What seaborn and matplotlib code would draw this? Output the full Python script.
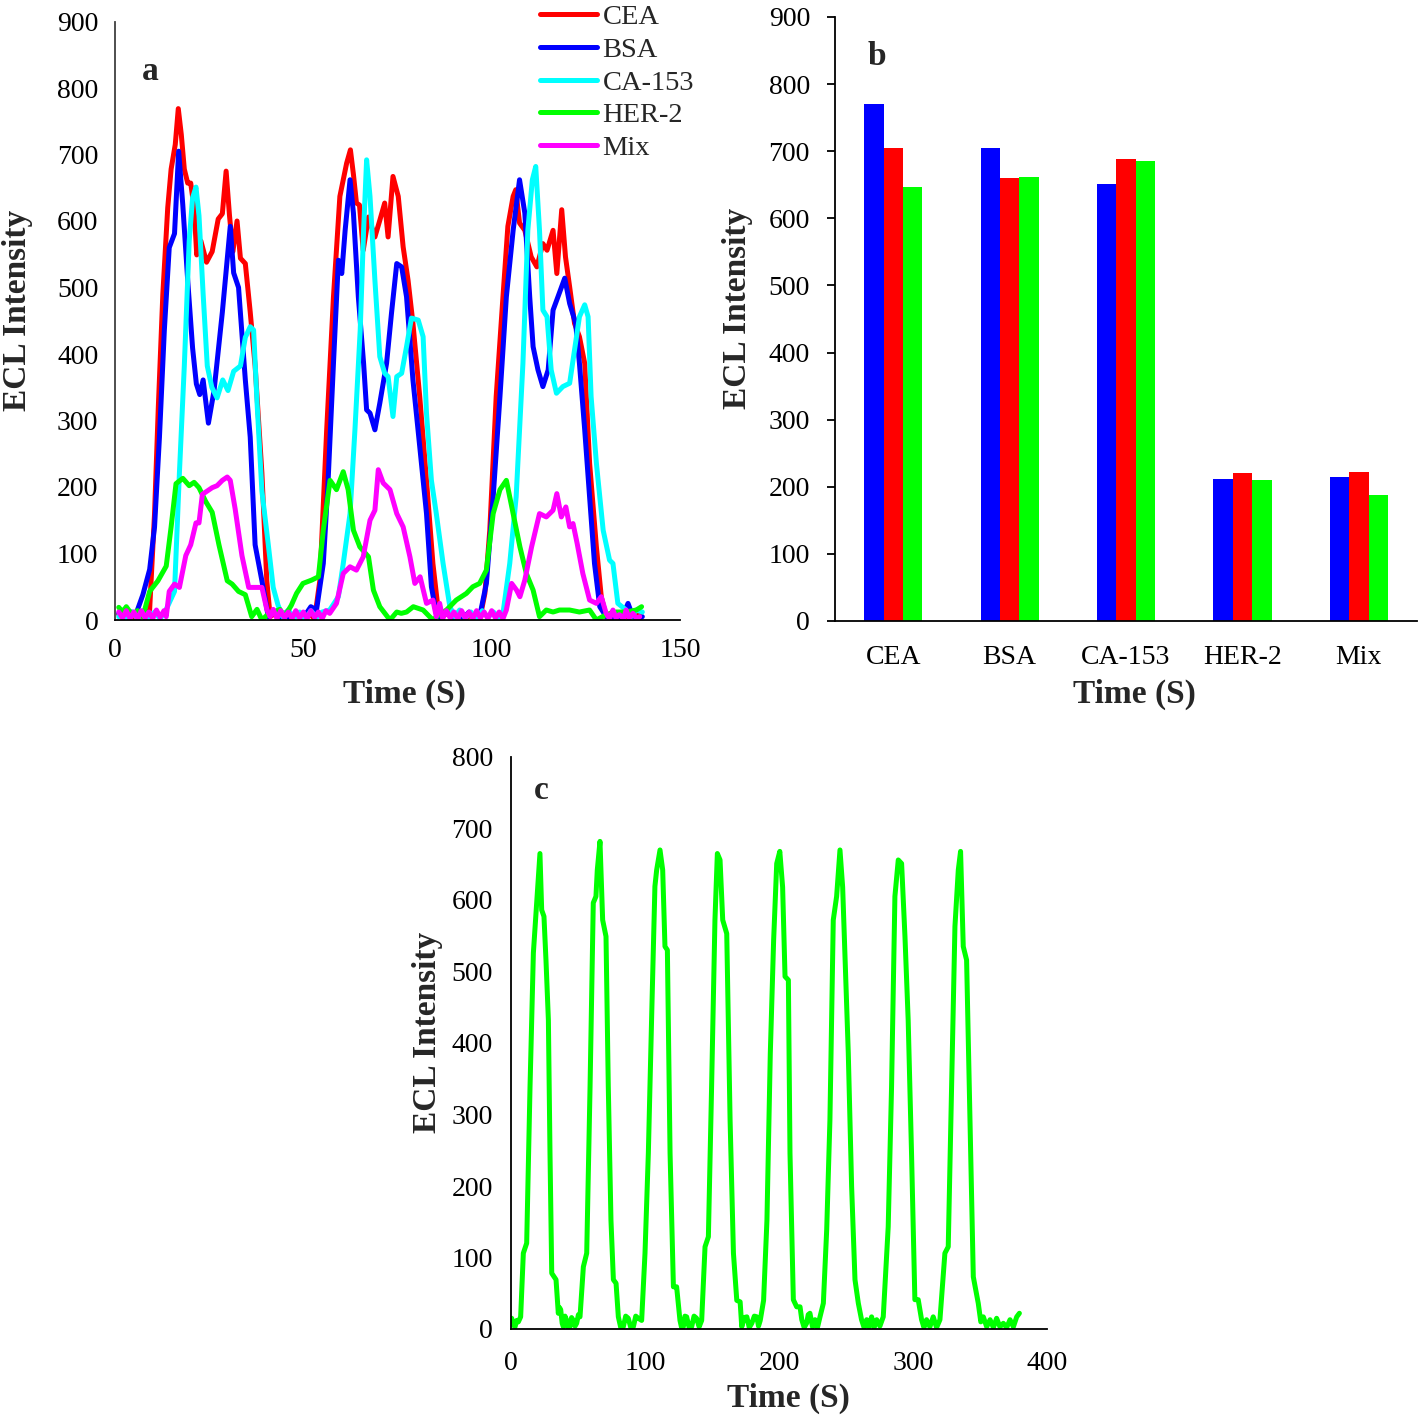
import pandas as pd
import numpy as np
import matplotlib.pyplot as plt
import seaborn as sns

sns.set_style("white")
plt.rcParams['font.family'] = ['Liberation Serif', 'DejaVu Serif']

# ---- panel a : ECL traces, (time, intensity)
cea = [(1, 8), (2.5, 3), (4, 10), (5.5, 2), (7, 6), (8.5, 4), (9.2, 16), (10.5, 160), (11.5, 320),
       (12.7, 490), (14.0, 620), (14.9, 678), (16.0, 715), (16.8, 769), (17.6, 730), (18.4, 678),
       (19.3, 657), (20.1, 657), (21.0, 620), (21.7, 549), (22.8, 570), (24.3, 538), (25.8, 554),
       (27.4, 603), (28.5, 611), (29.5, 675), (30.4, 608), (31.3, 554), (32.4, 600), (33.3, 544),
       (34.6, 536), (35.9, 463), (37.2, 382), (39.0, 221), (40.3, 59), (41.2, 5), (42.5, 10),
       (44, 3), (45.5, 12), (47, 2), (48.5, 8), (50, 4), (51.5, 10), (53.0, 2), (54.4, 60),
       (56.2, 286), (58.0, 486), (59.7, 637), (61.5, 687), (62.5, 707), (63.3, 670), (64.1, 627),
       (64.9, 624), (65.9, 556), (67.3, 606), (69.0, 576), (70.3, 601), (71.6, 627), (72.5, 576),
       (73.8, 667), (75.2, 637), (76.5, 561), (77.8, 511), (79.1, 446), (80.9, 336), (82.7, 210),
       (84.4, 85), (85.8, 15), (87, 5), (88.5, 12), (90, 3), (91.5, 10), (93, 2), (94.5, 8),
       (96, 4), (96.8, 0), (98.2, 40), (99.5, 135), (101.2, 336), (103.0, 486), (104.3, 592),
       (105.7, 637), (106.4, 647), (107.4, 597), (108.8, 586), (110.5, 546), (112.0, 531),
       (113.6, 566), (114.7, 556), (116.3, 586), (117.3, 521), (118.6, 617), (119.6, 546),
       (120.7, 501), (122.0, 446), (123.3, 426), (124.7, 386), (126.0, 236), (127.8, 110),
       (129.1, 35), (130.4, 5), (132, 12), (133.5, 2), (135, 10), (136.5, 3), (138, 12), (139.5, 5)]

bsa = [(1, 10), (2.5, 4), (4, 12), (5.7, 11), (7.4, 38), (9.2, 76), (10.5, 140), (11.8, 275),
       (13.1, 436), (14.4, 560), (15.8, 581), (16.9, 705), (18.0, 624), (19.3, 511), (20.6, 409),
       (21.6, 355), (22.5, 339), (23.4, 361), (24.8, 296), (26.3, 345), (28.5, 463), (30.6, 592),
       (31.5, 522), (32.8, 500), (34.6, 361), (35.9, 275), (37.2, 113), (39.0, 59), (40.7, 5),
       (42, 12), (43.5, 3), (45, 10), (46.5, 2), (48, 12), (49.5, 4), (50.8, 10), (52, 20),
       (53.5, 15), (55.3, 85), (56.5, 200), (58.0, 386), (59.3, 541), (60.2, 521), (61.1, 586),
       (62.4, 662), (63.3, 612), (64.6, 486), (66.0, 386), (66.8, 316), (67.7, 311), (69.0, 286),
       (70.3, 326), (72.1, 386), (73.4, 461), (74.8, 536), (76.1, 531), (77.4, 486), (79.1, 361),
       (80.9, 261), (82.7, 160), (84.0, 50), (85.3, 10), (86.5, 3), (88, 12), (89.5, 2), (91, 10),
       (92.5, 3), (94, 12), (95.5, 4), (96.8, 5), (98.6, 55), (100.4, 185), (102.2, 336),
       (103.9, 486), (105.7, 586), (107.4, 662), (108.8, 612), (110.1, 486), (111.0, 411),
       (112.3, 376), (113.6, 351), (115.0, 376), (116.3, 466), (117.6, 486), (119.4, 514),
       (120.7, 476), (122.3, 446), (123.3, 386), (124.7, 286), (126.0, 185), (127.3, 85),
       (128.7, 20), (130.4, 5), (132, 3), (133.1, 10), (134.5, 2), (136.2, 25), (137.5, 5),
       (139, 2), (140, 5)]

ca153 = [(1, 5), (2, 15), (3, 3), (4.5, 12), (6, 2), (7.5, 14), (9, 3), (10.5, 12), (12, 2),
         (13.6, 16), (15.8, 43), (17.1, 221), (18.4, 382), (19.7, 570), (20.6, 635), (21.5, 651),
         (22.3, 608), (23.4, 490), (24.5, 382), (25.7, 350), (27.1, 334), (28.6, 361), (30.0, 345),
         (31.5, 374), (33.3, 382), (34.6, 425), (35.9, 441), (36.8, 436), (37.7, 328), (39.0, 194),
         (40.7, 113), (42.0, 49), (43.3, 22), (44.5, 5), (46, 15), (47.5, 3), (49, 12), (50.5, 2),
         (52, 14), (53.5, 4), (55, 12), (57.0, 15), (59.3, 35), (60.6, 85), (62.4, 160),
         (63.7, 286), (65.1, 436), (66.0, 586), (66.8, 692), (67.7, 637), (69.0, 511), (70.3, 396),
         (71.6, 371), (72.5, 366), (73.8, 306), (74.8, 366), (76.1, 371), (77.4, 411), (78.7, 454),
         (80.5, 451), (81.8, 426), (82.7, 311), (84.0, 210), (85.3, 160), (87.1, 85), (88.9, 20),
         (90.2, 5), (91.5, 15), (93, 3), (94.5, 12), (96, 2), (97.5, 14), (99, 4), (100.5, 12),
         (101.8, 3), (103.0, 10), (104.8, 85), (106.5, 185), (108.3, 386), (109.6, 586),
         (110.8, 662), (111.7, 682), (112.7, 586), (113.6, 466), (114.7, 456), (115.8, 376),
         (117.2, 341), (118.9, 351), (120.7, 356), (122.0, 406), (123.3, 456), (124.7, 474),
         (125.6, 456), (126.4, 336), (127.8, 236), (129.6, 135), (131.3, 90), (132.2, 85),
         (133.5, 25), (135.7, 15), (137, 5), (138.4, 15), (140, 12)]

her2 = [(1, 19), (2, 12), (3, 20), (4.5, 8), (6, 14), (7.4, 5), (9.2, 43), (11.4, 59), (13.6, 81),
        (14.9, 140), (16.2, 205), (18.0, 213), (19.7, 202), (21.0, 207), (22.3, 199), (24.1, 178),
        (25.8, 162), (27.6, 113), (29.8, 59), (31.1, 54), (32.8, 43), (34.6, 38), (36.3, 5),
        (37.7, 16), (39.0, 0), (40.5, 8), (41.6, 11), (43.8, 16), (45, 5), (46.8, 22), (48.2, 40),
        (49.9, 55), (52.2, 60), (54.0, 65), (55.3, 135), (57.1, 210), (58.8, 196), (60.6, 223),
        (61.9, 196), (63.3, 135), (65.0, 110), (67.3, 95), (68.6, 45), (70.3, 20), (73.0, 0),
        (74.8, 12), (76, 10), (77.4, 12), (79.2, 20), (81.8, 15), (84.4, 0), (86, 8), (88.0, 15),
        (90.6, 30), (93.3, 40), (95.0, 50), (96.8, 55), (98.6, 75), (100.4, 160), (102.2, 196),
        (103.9, 210), (105.7, 160), (107.5, 110), (109.2, 70), (111.0, 45), (112.7, 5),
        (114.5, 15), (116.3, 12), (118.0, 15), (120.7, 15), (123.3, 12), (126.0, 15), (127.8, 0),
        (130.4, 8), (133.1, 12), (135.7, 12), (138.4, 15), (139.8, 20)]

mix = [(1, 12), (2, 3), (3, 14), (4, 2), (5, 12), (6, 2), (7, 14), (8, 3), (9, 12), (10, 2),
       (11, 15), (12, 4), (13, 14), (13.6, 5), (14.4, 43), (15.8, 54), (17.1, 49), (18.8, 97),
       (20.1, 113), (21.5, 146), (22.3, 146), (23.2, 189), (24.5, 194), (25.8, 199), (27.1, 202),
       (28.5, 210), (29.8, 215), (30.6, 210), (31.9, 167), (33.7, 97), (35.5, 49), (37.2, 49),
       (39.0, 49), (40.3, 16), (41.2, 5), (42, 16), (43, 2), (44, 14), (45, 3), (46, 12), (47, 2),
       (48, 14), (49, 3), (50, 12), (51, 2), (52, 14), (53, 4), (54, 12), (55, 2), (56, 14),
       (57.0, 10), (58.8, 25), (60.6, 70), (62.4, 80), (64.1, 75), (65.9, 95), (67.7, 150),
       (69.0, 165), (69.9, 226), (71.2, 206), (73.0, 196), (74.8, 160), (76.5, 140), (78.3, 95),
       (79.6, 55), (81.0, 65), (82.7, 25), (84.4, 30), (85.3, 5), (86.2, 25), (87, 2), (88, 14),
       (89, 3), (90, 12), (91, 2), (92, 14), (93, 3), (94, 12), (95, 2), (96, 14), (97, 3),
       (98, 12), (99, 2), (100, 14), (101, 3), (102, 12), (103, 2), (103.9, 15), (105.3, 55),
       (106.6, 45), (107.5, 35), (108.8, 60), (110.6, 110), (112.7, 160), (114.5, 155),
       (116.3, 165), (117.3, 190), (118.5, 155), (119.7, 170), (120.7, 140), (121.6, 145),
       (122.7, 115), (124.2, 70), (126.0, 30), (127.8, 25), (129.1, 35), (130.4, 10), (131.3, 2),
       (132.2, 15), (133, 3), (133.9, 8), (135, 2), (135.7, 15), (136.5, 3), (137.5, 10),
       (138.5, 2), (139.3, 5)]

trace_names = ['CEA', 'BSA', 'CA-153', 'HER-2', 'Mix']
trace_colors = ['#FF0000', '#0000FF', '#00FFFF', '#00FF00', '#FF00FF']

# ---- panel b : bar heights per analyte, three runs
analytes = ['CEA', 'BSA', 'CA-153', 'HER-2', 'Mix']
run1 = [770, 705, 651, 212, 214]
run2 = [705, 660, 689, 221, 222]
run3 = [647, 662, 685, 210, 188]
bar_colors = ['#0000FF', '#FF0000', '#00FF00']

# ---- panel c : repeated scans
stab = [(0.5, 15), (2.0, 5), (3.0, 3), (4.3, 12), (5.5, 10), (7.2, 17), (9.2, 106), (11.7, 120),
        (14.2, 339), (16.7, 526), (19.2, 596), (21.6, 665), (22.9, 586), (24.6, 577), (26.1, 516),
        (27.9, 432), (29.1, 246), (30.4, 78), (33.6, 69), (35.3, 22), (36.2, 30), (37.1, 27),
        (38.2, 8), (39.1, 3), (40.3, 18), (41.6, 12), (42.8, 2), (44.0, 3), (45.2, 16),
        (46.5, 12), (47.8, 4), (49.0, 8), (50.3, 20), (51.5, 17), (54.0, 87), (56.5, 106),
        (59.0, 339), (61.4, 596), (63.4, 605), (64.4, 642), (66.4, 682), (68.4, 572), (70.9, 549),
        (72.6, 339), (74.6, 152), (76.4, 69), (78.4, 64), (80.1, 17), (81.9, 2), (83.8, 3),
        (85.6, 18), (87.5, 15), (89.4, 2), (91.3, 3), (93.1, 18), (95.0, 15), (97.5, 12),
        (100.0, 106), (102.5, 246), (104.9, 432), (107.4, 619), (108.7, 642), (111.2, 670),
        (113.2, 642), (114.9, 535), (116.7, 530), (118.7, 246), (121.2, 59), (123.6, 59),
        (126.1, 12), (127.3, 2), (128.6, 3), (129.8, 18), (131.1, 17), (132.9, 2), (134.8, 3),
        (136.6, 18), (138.5, 15), (140.4, 3), (142.3, 12), (144.8, 115), (147.3, 129),
        (149.7, 339), (152.2, 572), (154.0, 665), (156.0, 656), (158.0, 572), (161.0, 553),
        (163.5, 292), (166.0, 106), (168.5, 40), (171.0, 38), (172.2, 3), (174.1, 16),
        (176.0, 17), (177.8, 2), (179.7, 8), (181.6, 18), (183.5, 17), (184.7, 4), (186.0, 12),
        (188.5, 40), (191.0, 152), (193.5, 385), (196.0, 544), (198.3, 651), (200.6, 668),
        (202.7, 618), (204.5, 493), (207.0, 488), (208.2, 246), (210.7, 41), (213.2, 31),
        (215.7, 31), (217.0, 13), (218.8, 2), (220.6, 8), (221.8, 20), (223.1, 22), (225.0, 3),
        (226.9, 13), (228.7, 2), (230.6, 17), (233.1, 36), (235.6, 139), (238.0, 292),
        (240.5, 572), (243.0, 605), (245.5, 670), (247.5, 618), (249.2, 525), (251.7, 386),
        (254.2, 199), (256.7, 69), (259.2, 36), (261.6, 13), (263.5, 2), (265.4, 13),
        (267.2, 3), (269.1, 17), (271.0, 2), (272.9, 13), (275.3, 4), (277.8, 17), (281.5, 143),
        (284.0, 339), (286.5, 605), (289.0, 656), (291.5, 651), (294.0, 549), (296.4, 432),
        (298.9, 246), (301.4, 41), (303.9, 41), (306.4, 13), (308.2, 2), (310.1, 13),
        (312.6, 3), (315.1, 17), (317.6, 2), (320.1, 13), (323.8, 106), (326.3, 115),
        (328.8, 339), (331.3, 563), (333.8, 642), (335.5, 668), (337.5, 535), (340.0, 516),
        (342.5, 292), (345.0, 73), (348.7, 36), (350.6, 10), (352.5, 17), (355.0, 3),
        (357.5, 13), (360.0, 2), (362.4, 15), (364.9, 3), (367.4, 8), (369.9, 2), (372.4, 13),
        (374.9, 3), (377.4, 17), (379.4, 22)]

W, H = 1419, 1420
fig = plt.figure(figsize=(W / 100, H / 100), dpi=100)
ax_a = fig.add_axes([115 / W, 1 - 620 / H, 565 / W, 598.5 / H])
ax_b = fig.add_axes([835 / W, 1 - 621 / H, 582 / W, 604 / H])
ax_c = fig.add_axes([511 / W, 1 - 1329 / H, 536 / W, 572 / H])

tick_fs = 20
lab_fs = 24
lw = 3.6


def style_axes(ax, spine_col='black'):
    for s in ['top', 'right']:
        ax.spines[s].set_visible(False)
    ax.spines['left'].set_color(spine_col)
    ax.spines['bottom'].set_color('black')
    for s in ['left', 'bottom']:
        ax.spines[s].set_linewidth(1.3)
    ax.tick_params(labelsize=tick_fs, colors='black')


def place_labels(ax, xpos, ypos):
    ax.set_xlabel('Time (S)', fontsize=lab_fs, fontweight='bold')
    ax.set_ylabel('ECL Intensity', fontsize=lab_fs, fontweight='bold')
    ax.xaxis.label.set_va('center')
    ax.yaxis.label.set_va('center')
    ax.xaxis.set_label_coords(*xpos)
    ax.yaxis.set_label_coords(*ypos)


# panel a
for name, pts, col in zip(trace_names, [cea, bsa, ca153, her2, mix], trace_colors):
    d = pd.DataFrame(pts, columns=['t', 'v'])
    sns.lineplot(data=d, x='t', y='v', color=col, lw=lw, label=name, ax=ax_a,
                 sort=False, estimator=None, solid_joinstyle='round', solid_capstyle='round')
ax_a.set_xlim(0, 150)
ax_a.set_ylim(0, 900)
ax_a.set_xticks([0, 50, 100, 150])
ax_a.set_yticks(range(0, 901, 100))
style_axes(ax_a, spine_col='#404040')
ax_a.tick_params(axis='both', length=0)
ax_a.tick_params(axis='y', pad=12)
ax_a.tick_params(axis='x', pad=13)
place_labels(ax_a, (0.513, -0.124), (-0.172, 0.518))
ax_a.legend(loc='upper left', bbox_to_anchor=(0.752, 1.029), frameon=False, fontsize=20.5,
            handlelength=2.0, handletextpad=0.2, labelspacing=0.24, borderaxespad=0,
            borderpad=0)
ax_a.text(0.062, 0.916, 'a', transform=ax_a.transAxes, fontsize=lab_fs, fontweight='bold',
          ha='center', va='center')

# panel b
rows = []
for i, a in enumerate(analytes):
    for j, series in enumerate([run1, run2, run3]):
        rows.append({'analyte': a, 'run': f'r{j + 1}', 'val': series[i]})
bdf = pd.DataFrame(rows)
sns.barplot(data=bdf, x='analyte', y='val', hue='run', palette=bar_colors, width=0.5,
            saturation=1, legend=False, linewidth=0, ax=ax_b)
ax_b.set_xlim(-0.5, 4.5)
ax_b.set_ylim(0, 900)
ax_b.set_yticks(range(0, 901, 100))
style_axes(ax_b)
ax_b.tick_params(axis='y', length=6, width=1.3, direction='out', pad=12, left=True)
ax_b.tick_params(axis='x', length=0, pad=17)
place_labels(ax_b, (0.515, -0.121), (-0.167, 0.518))
ax_b.text(0.072, 0.934, 'b', transform=ax_b.transAxes, fontsize=lab_fs, fontweight='bold',
          ha='center', va='center')

# panel c
cdf = pd.DataFrame(stab, columns=['t', 'v'])
sns.lineplot(data=cdf, x='t', y='v', color='#00FF00', lw=lw, ax=ax_c, sort=False,
             estimator=None, solid_joinstyle='round', solid_capstyle='round')
ax_c.set_xlim(0, 400)
ax_c.set_ylim(0, 800)
ax_c.set_xticks(range(0, 401, 100))
ax_c.set_yticks(range(0, 801, 100))
style_axes(ax_c)
ax_c.tick_params(axis='both', length=0)
ax_c.tick_params(axis='y', pad=13)
ax_c.tick_params(axis='x', pad=16)
place_labels(ax_c, (0.517, -0.121), (-0.155, 0.519))
ax_c.text(0.056, 0.942, 'c', transform=ax_c.transAxes, fontsize=lab_fs, fontweight='bold',
          ha='center', va='center')

fig.savefig('out.png', dpi=100, facecolor='white')
